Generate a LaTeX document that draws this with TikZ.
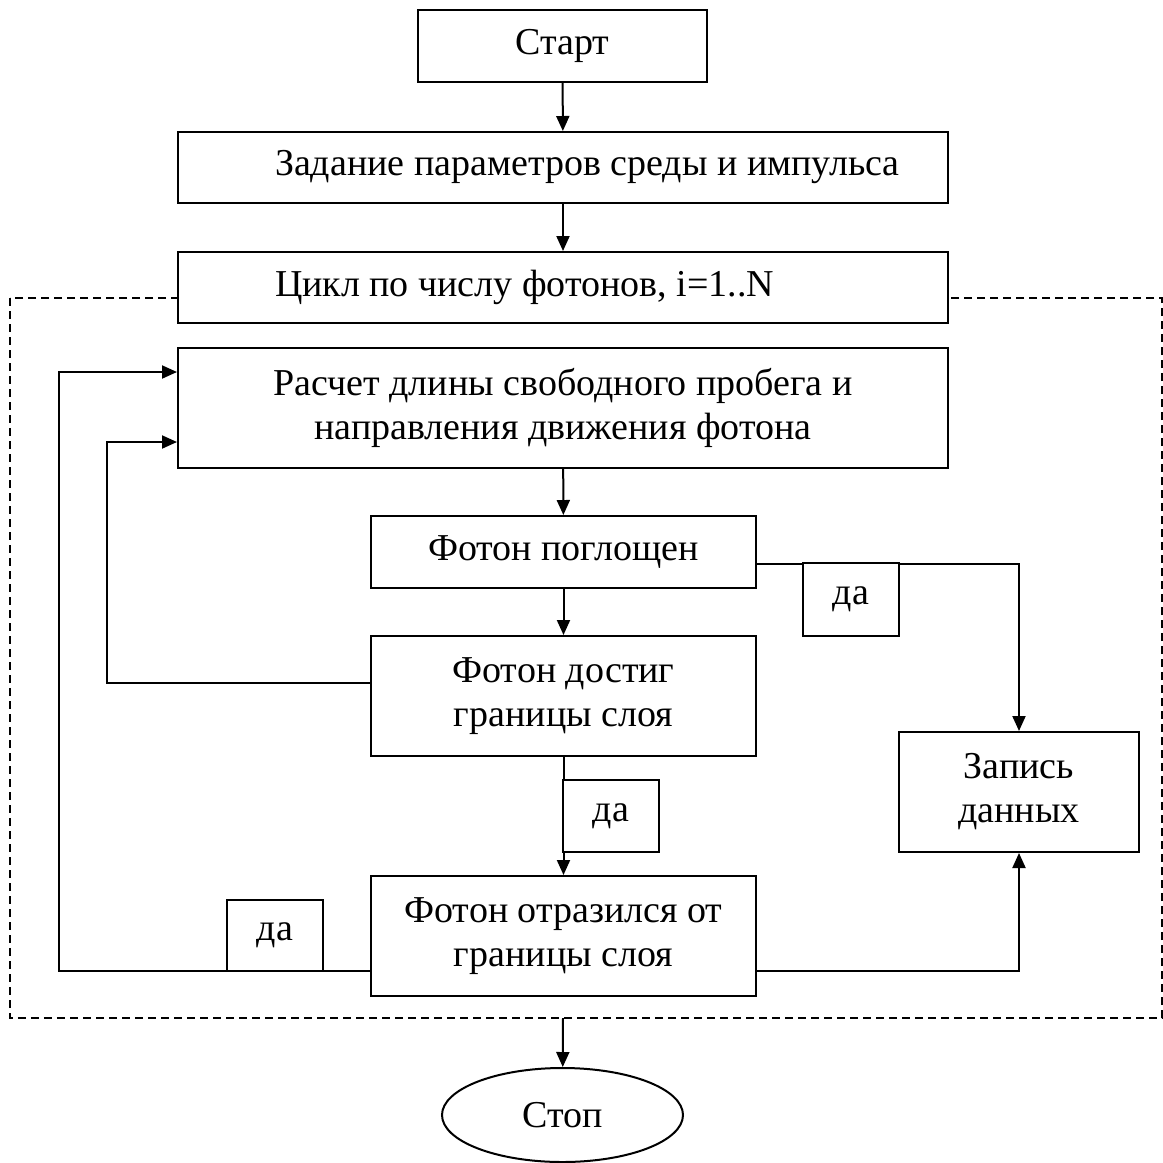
\documentclass[tikz,border=0pt]{standalone}
\usepackage{fontspec}
\setmainfont{Liberation Serif}
\usetikzlibrary{arrows.meta,shapes.geometric}
\begin{document}
\begin{tikzpicture}[x=1pt,y=-1pt,
 box/.style={draw, fill=white, line width=2pt, inner sep=0pt, align=center, font=\fontsize{38}{44}\selectfont},
 dabox/.style={draw, fill=white, line width=2pt, inner sep=0pt, minimum width=96pt, font=\fontsize{38}{44}\selectfont},
 conn/.style={line width=2pt, -{Triangle[length=15pt,width=13pt]}},
 frame/.style={line width=1.5pt, dash pattern=on 8pt off 5pt}
]
\useasboundingbox (0,0) rectangle (1163,1163);
\draw[frame] (10,298) rectangle (1162,1018);

\node[box, minimum width=289pt, minimum height=72pt] (start) at (562.5,46) {Старт};
\node[box, minimum height=71pt] (zad) at (563,167.5) {\makebox[770pt][l]{\hspace*{97pt}Задание параметров среды и импульса}};
\node[box, minimum height=71pt] (cyc) at (563,287.5) {\makebox[770pt][l]{\hspace*{97pt}Цикл по числу фотонов, i=1..N}};
\node[box, minimum width=770pt, minimum height=120pt] (calc) at (563,408) {Расчет длины свободного пробега и\\направления движения фотона};
\node[box, minimum width=385pt, minimum height=72pt] (absorb) at (563.5,552) {Фотон поглощен};
\node[box, minimum width=385pt, minimum height=120pt] (reach) at (563.5,696) {Фотон достиг\\границы слоя};
\node[box, minimum width=240pt, minimum height=120pt] (rec) at (1019,792) {Запись\\данных};
\node[box, minimum width=385pt, minimum height=120pt] (refl) at (563.5,936) {Фотон отразился от\\границы слоя};
\node[box, shape=ellipse, minimum width=241pt, minimum height=94pt] (stop) at (562.5,1115) {Стоп};

\coordinate (fb) at (563,1018);

\draw[conn] (start) -- (zad);
\draw[conn] (zad) -- (cyc);
\draw[conn] (calc) -- (absorb);
\draw[conn] (absorb) -- (reach);
\draw[conn] (absorb.east |- 0,564) -| (rec.north);
\draw[conn] (reach.west |- 0,683) -- (107,683) -- (107,442) -- (calc.west |- 0,442);
\draw[conn] (reach) -- (refl);
\draw[conn] (refl.west |- 0,971) -- (59,971) -- (59,372) -- (calc.west |- 0,372);
\draw[conn] (refl.east |- 0,971) -| (rec.south);
\draw[conn] (fb) -- (stop);

\node[dabox, minimum height=73pt] (da1) at (851,599.5) {да\hspace{20pt}};
\node[dabox, minimum height=72pt] (da2) at (611,816) {да\hspace{20pt}};
\node[dabox, minimum height=71pt] (da3) at (275,935.5) {да\hspace{20pt}};
\end{tikzpicture}
\end{document}
